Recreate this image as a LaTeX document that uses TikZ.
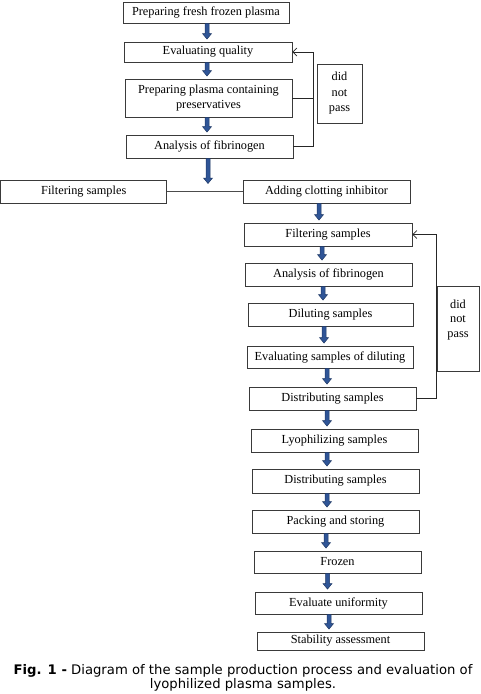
\documentclass[tikz,border=0pt]{standalone}
\usepackage{fontspec}
\setmainfont{Liberation Serif}
\newfontfamily\capfont{DejaVu Sans}
\usetikzlibrary{calc,arrows.meta}
\definecolor{arrfill}{HTML}{2F5597}
\definecolor{arrdraw}{HTML}{1F3864}
\definecolor{boxline}{HTML}{3A3A3A}
\newcommand\blkarr[3]{%
  \path[fill=arrfill,draw=arrdraw,line width=0.5pt]
    let \p1=([xshift=#3]#1.south), \p2=(#2.north) in
    (\x1-2pt,\y1) -- (\x1-2pt,\y2+8pt) -- (\x1-4.5pt,\y2+8pt) -- (\x1,\y2+2.5pt)
    -- (\x1+4.5pt,\y2+8pt) -- (\x1+2pt,\y2+8pt) -- (\x1+2pt,\y1) -- cycle;}
\tikzset{
  box/.style={draw=boxline,line width=0.8pt,inner sep=0pt,align=center,
    font=\fontsize{12.3}{14.5}\selectfont},
  fb/.style={draw=black!85,line width=0.7pt},
  fbarrow/.style={fb,-{Straight Barb[length=4pt,width=8pt,line width=0.7pt]}}
}
\begin{document}
\begin{tikzpicture}[x=1pt,y=-1pt]
\useasboundingbox (0,0) rectangle (480,694);
\node[box,minimum width=166pt,minimum height=21pt] (b1) at (206,12.5) {Preparing fresh frozen plasma};
\node[box,minimum width=168pt,minimum height=20pt] (b2) at (208,52) {Evaluating quality};
\node[box,minimum width=167pt,minimum height=38pt] (b3) at (208.5,98) {Preparing plasma containing\\preservatives};
\node[box,minimum width=167pt,minimum height=23pt] (b4) at (209.5,146.5) {Analysis of fibrinogen};
\node[box,minimum width=45pt,minimum height=59pt,font=\fontsize{12.3}{15.5}\selectfont] (dnp1) at (339.5,93.5) {did\\not\\pass};
\node[box,minimum width=166pt,minimum height=23pt] (fl) at (83.75,191.5) {Filtering samples};
\node[box,minimum width=167pt,minimum height=23pt] (add) at (326.5,191.5) {Adding clotting inhibitor};
\node[box,minimum width=168pt,minimum height=23pt] (f2) at (328,234.5) {Filtering samples};
\node[box,minimum width=167pt,minimum height=23pt] (a2) at (328.5,274.5) {Analysis of fibrinogen};
\node[box,minimum width=165pt,minimum height=23pt] (d) at (330.5,314.5) {Diluting samples};
\node[box,minimum width=166pt,minimum height=22pt] (e) at (330,357) {Evaluating samples of diluting};
\node[box,minimum width=167pt,minimum height=23pt] (ds) at (332.5,398.5) {Distributing samples};
\node[box,minimum width=42pt,minimum height=85pt,font=\fontsize{12.3}{14.5}\selectfont] (dnp2) at (458,328.5) {did\\not\\pass\\[6pt]};
\node[box,minimum width=167pt,minimum height=23pt] (ly) at (334.5,440.5) {Lyophilizing samples};
\node[box,minimum width=167pt,minimum height=24pt] (ds2) at (335.5,481) {Distributing samples};
\node[box,minimum width=167pt,minimum height=23pt] (pk) at (335.5,521.5) {Packing and storing};
\node[box,minimum width=167pt,minimum height=22pt] (fr) at (337.5,562) {Frozen};
\node[box,minimum width=167pt,minimum height=22pt] (ev) at (338.5,603) {Evaluate uniformity};
\node[box,minimum width=167pt,minimum height=18pt] (st) at (340.5,641) {Stability assessment};
% junction for big arrow
\coordinate (jn) at (208,186);
% arrows
\blkarr{b1}{b2}{1pt}
\blkarr{b2}{b3}{-1pt}
\blkarr{b3}{b4}{-1.5pt}
\path[fill=arrfill,draw=arrdraw,line width=0.5pt]
  let \p1=([xshift=-1.5pt]b4.south), \p2=(jn) in
  (\x1-2pt,\y1) -- (\x1-2pt,\y2+8pt) -- (\x1-4.5pt,\y2+8pt) -- (\x1,\y2+2.5pt)
  -- (\x1+4.5pt,\y2+8pt) -- (\x1+2pt,\y2+8pt) -- (\x1+2pt,\y1) -- cycle;
\blkarr{add}{f2}{-7.5pt}
\blkarr{f2}{a2}{-6pt}
\blkarr{a2}{d}{-5.5pt}
\blkarr{d}{e}{-6.5pt}
\blkarr{e}{ds}{-3pt}
\blkarr{ds}{ly}{-5.5pt}
\blkarr{ly}{ds2}{-7.5pt}
\blkarr{ds2}{pk}{-8.5pt}
\blkarr{pk}{fr}{-9.5pt}
\blkarr{fr}{ev}{-10pt}
\blkarr{ev}{st}{-9.5pt}
% connecting line
\draw[fb,draw=black!70,line width=0.8pt] (fl.east) -- (add.west);
% feedback 1
\coordinate (fx1) at (313,0);
\draw[fbarrow] (b4.east) -- (b4.east -| fx1) -- (b2.east -| fx1) -- (b2.east);
\draw[fb] (b3.east) -- (b3.east -| fx1);
% feedback 2
\coordinate (fx2) at (436.5,0);
\draw[fbarrow] (ds.east) -- (ds.east -| fx2) -- (f2.east -| fx2) -- (f2.east);
% caption
\node[font=\capfont\fontsize{13.2}{14}\selectfont,align=center,inner sep=0pt] (cap) at (243,677.5)
  {\textbf{Fig. 1 -} Diagram of the sample production process and evaluation of\\lyophilized plasma samples.};
\end{tikzpicture}
\end{document}
